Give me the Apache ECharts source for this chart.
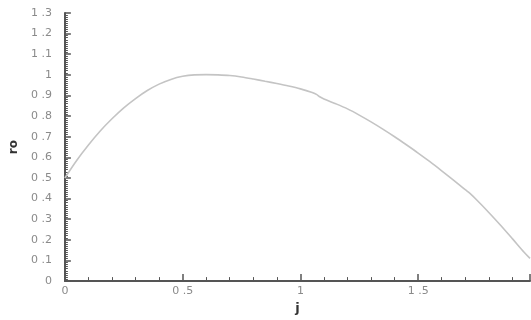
<!DOCTYPE html>
<html>
<head>
<meta charset="utf-8">
<script src="https://cdn.jsdelivr.net/npm/echarts@6/dist/echarts.min.js"></script>
<style>
  html, body { margin: 0; padding: 0; background: #fff; }
  #chart { width: 531px; height: 320px; }
</style>
</head>
<body>
<div id="chart"></div>
<script>
// curve
let jValues = [0, 0.05, 0.1, 0.15, 0.2, 0.25, 0.3, 0.35, 0.4, 0.45, 0.5, 0.55, 0.6, 0.65, 0.7, 0.75,
  0.8, 0.85, 0.9, 0.95, 1.0, 1.05, 1.07, 1.08, 1.1, 1.15, 1.2, 1.25, 1.3, 1.35, 1.4, 1.45, 1.5,
  1.55, 1.6, 1.65, 1.7, 1.72, 1.75, 1.8, 1.85, 1.9, 1.95, 1.975]
let roValues = [0.5, 0.585, 0.66, 0.728, 0.787, 0.84, 0.885, 0.924, 0.955, 0.978, 0.993, 1.0, 1.001, 1.0, 0.997, 0.99,
  0.98, 0.969, 0.958, 0.946, 0.932, 0.914, 0.904, 0.895, 0.883, 0.86, 0.835, 0.805, 0.772, 0.737, 0.70, 0.661, 0.621,
  0.579, 0.535, 0.49, 0.443, 0.425, 0.392, 0.333, 0.271, 0.206, 0.14, 0.11]

let axisColor = '#555'
let labelColor = '#8a8a8a'

function tickText (v, step) {
  let r = Math.round(v / step)
  if (Math.abs(v / step - r) > 1e-6) return ''
  let s = String(Math.round(v * 10) / 10)
  return s.replace('.', ' .')
}

let chart = echarts.init(document.getElementById('chart'))
chart.setOption({
  animation: false,
  grid: { left: 57, right: 1, top: 13, bottom: 27 },
  xAxis: {
    type: 'value',
    min: 0,
    max: 1.975,
    interval: 0.5,
    name: 'j',
    nameLocation: 'middle',
    nameGap: 17,
    nameTextStyle: { color: '#333', fontWeight: 'bold', fontSize: 13, fontFamily: 'DejaVu Sans' },
    axisLine: { lineStyle: { color: axisColor, width: 2 } },
    axisTick: { inside: true, length: 7, lineStyle: { color: axisColor, width: 1.5 } },
    minorTick: { show: true, splitNumber: 5, length: 4, lineStyle: { color: axisColor, width: 1 } },
    axisLabel: {
      color: labelColor, fontSize: 11, fontFamily: 'DejaVu Sans', margin: 5,
      showMaxLabel: false,
      formatter: v => tickText(v, 0.5)
    },
    splitLine: { show: false }
  },
  yAxis: {
    type: 'value',
    min: 0,
    max: 1.3,
    interval: 0.1,
    name: 'ro',
    nameLocation: 'middle',
    nameGap: 42,
    nameRotate: 90,
    nameTextStyle: { color: '#333', fontWeight: 'bold', fontSize: 12, fontFamily: 'DejaVu Sans' },
    axisLine: { show: true, lineStyle: { color: axisColor, width: 2 } },
    axisTick: { show: true, inside: true, length: 6, lineStyle: { color: axisColor, width: 1.5 } },
    minorTick: { show: true, splitNumber: 10, length: 3, lineStyle: { color: axisColor, width: 1 } },
    axisLabel: {
      color: labelColor, fontSize: 11, fontFamily: 'DejaVu Sans', margin: 13,
      formatter: v => tickText(v, 0.1)
    },
    splitLine: { show: false }
  },
  series: [{
    type: 'line',
    data: jValues.map((j, i) => [j, roValues[i]]),
    showSymbol: false,
    smooth: 0.3,
    lineStyle: { color: '#c4c4c4', width: 1.6 }
  }]
})
</script>
</body>
</html>
